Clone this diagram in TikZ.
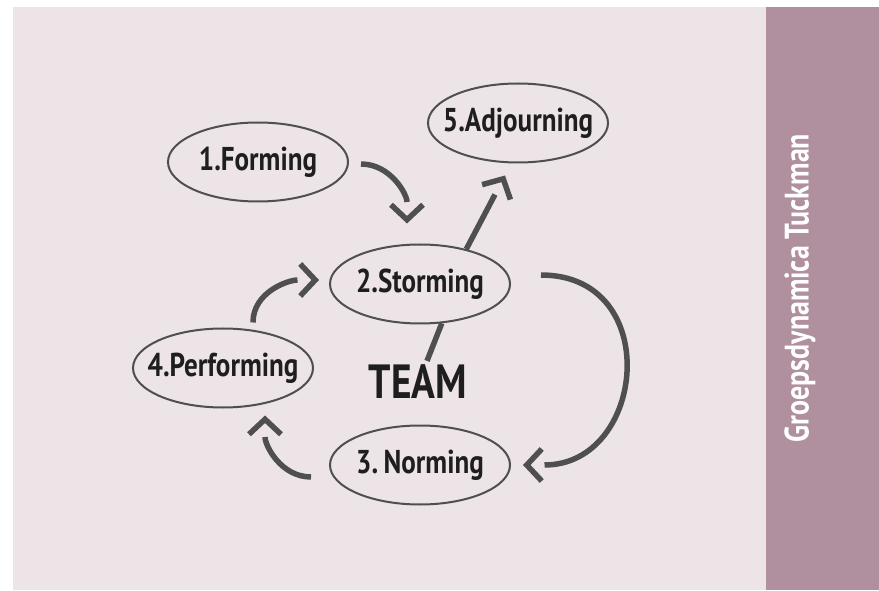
\documentclass[tikz,border=0pt]{standalone}
\usepackage{fontspec}
\setmainfont{PT Sans}[FakeStretch=0.82]
\usetikzlibrary{shapes.geometric,arrows.meta}
\definecolor{paper}{HTML}{ECE4E6}
\definecolor{band}{HTML}{B0909E}
\definecolor{ink}{HTML}{4F4F4F}
\definecolor{txt}{HTML}{1E1E1E}
\begin{document}
\begin{tikzpicture}[x=1pt,y=1pt]
  \useasboundingbox (0,0) rectangle (879,590);
  \fill [paper] (13,0) rectangle (766,583);   % Hintergrund
  \fill [band] (766,0) rectangle (879,583);   % Seitenband
  \tikzstyle{phase}=[ellipse, draw=ink, line width=2pt, minimum width=180pt, minimum height=79pt, inner xsep=-25pt, inner ysep=0pt, text=txt, font=\fontsize{33}{38}\selectfont\bfseries]
  \tikzstyle{arrow}=[draw=ink, line width=5.5pt, -{. Straight Barb[length=15pt,width=32pt]}]
  \tikzstyle{link}=[draw=ink, line width=5.5pt]

  \node[phase] (1) at (258, 428) {1.Forming};
  \node[phase] (2) at (420, 306) {2.Storming};
  \node[phase] (3) at (420, 125) {3.\,Norming};
  \node[phase] (4) at (223, 222) {4.Performing};
  \node[phase] (5) at (518, 467) {5.Adjourning};
  \node[text=txt, inner sep=4pt, font=\fontsize{48}{50}\selectfont\bfseries] (team) at (418, 208) {TEAM};
  \node[text=white, rotate=90, font=\fontsize{34}{38}\selectfont\bfseries] (side) at (800, 302) {Groepsdynamica Tuckman};

  \path ([shift={(12,-2)}]1.east) edge[arrow, out=0, in=90] ([shift={(-13,20)}]2.north);
  \path (2.37) edge[arrow] ([shift={(-13,-12)}]5.south);
  \path ([xshift=9pt]team.north) edge[link] (2.-61);
  \path ([shift={(30,9)}]2.east) edge[arrow, out=0, in=0, looseness=1.65] ([xshift=12pt]3.east);
  \path ([shift={(-18,-12)}]3.west) edge[arrow, out=180, in=-90] ([shift={(42,-7)}]4.south);
  \path ([shift={(30,5)}]4.north) edge[arrow, out=90, in=180] ([shift={(-10,4)}]2.west);
\end{tikzpicture}
\end{document}
